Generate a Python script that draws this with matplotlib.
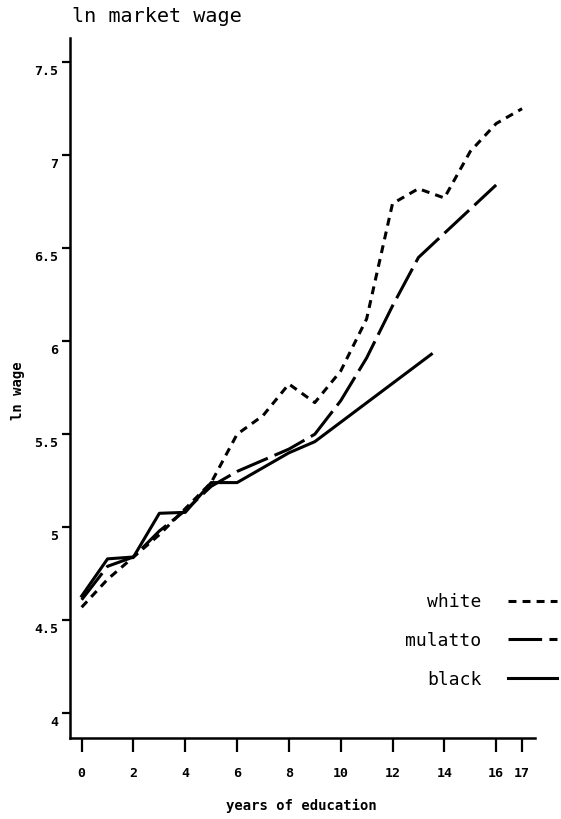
import matplotlib
matplotlib.use("Agg")
import matplotlib.pyplot as plt
from matplotlib.transforms import ScaledTranslation

# ---- data ----
years_white = [0, 1, 2, 3, 4, 5, 6, 7, 8, 9, 10, 11, 12, 13, 14, 15, 16, 17]
wage_white = [4.57, 4.72, 4.84, 4.96, 5.10, 5.24, 5.50, 5.60, 5.77, 5.67,
              5.84, 6.12, 6.74, 6.82, 6.77, 7.02, 7.17, 7.25]

years_mulatto = [0, 1, 2, 3, 4, 5, 6, 7, 8, 9, 10, 11, 12, 13, 16]
wage_mulatto = [4.61, 4.79, 4.84, 4.98, 5.09, 5.22, 5.30, 5.36, 5.42, 5.50,
                5.68, 5.91, 6.19, 6.45, 6.84]

years_black = [0, 1, 2, 3, 4, 5, 6, 7, 8, 9, 13.5]
wage_black = [4.63, 4.83, 4.84, 5.075, 5.08, 5.24, 5.24, 5.32, 5.40, 5.46, 5.93]

x_ticks = [0, 2, 4, 6, 8, 10, 12, 14, 16, 17]
x_tick_labels = ["0", "2", "4", "6", "8", "10", "12", "14", "16", "17"]
y_ticks = [4, 4.5, 5, 5.5, 6, 6.5, 7, 7.5]
y_tick_labels = ["4", "4.5", "5", "5.5", "6", "6.5", "7", "7.5"]

title_text = "ln market wage"
x_label = "years of education"
y_label = "ln wage"
series_labels = ["white", "mulatto", "black"]

# ---- figure ----
W, H = 561, 819
fig = plt.figure(figsize=(W / 100, H / 100), dpi=100)
plt.rcParams['font.family'] = ['DejaVu Sans Mono', 'DejaVu Sans']

ax_left, ax_right = 70, 535
ax_top, ax_bottom = 38, 738
ax = fig.add_axes([ax_left / W, 1 - ax_bottom / H,
                   (ax_right - ax_left) / W, (ax_bottom - ax_top) / H])

lw = 2.2
l_white, = ax.plot(years_white, wage_white, color="black", lw=lw,
                   linestyle=(0, (2.6, 2.0)), label=series_labels[0])
l_mul, = ax.plot(years_mulatto, wage_mulatto, color="black", lw=lw,
                 linestyle=(0, (11.0, 2.4)), label=series_labels[1])
l_black, = ax.plot(years_black, wage_black, color="black", lw=lw,
                   linestyle="-", label=series_labels[2])

ax.set_xlim(-0.45, 17.5)
ax.set_ylim(3.867, 7.63)

for s in ["top", "right"]:
    ax.spines[s].set_visible(False)
for s in ["left", "bottom"]:
    ax.spines[s].set_linewidth(1.8)

ax.set_xticks(x_ticks)
ax.set_xticklabels(x_tick_labels, fontsize=9.5, fontweight="bold")
ax.set_yticks(y_ticks)
ax.set_yticklabels(y_tick_labels, fontsize=9.5, fontweight="bold")
ax.tick_params(axis="x", direction="out", length=10, width=1.6, pad=11)
ax.tick_params(axis="y", direction="out", length=5.5, width=1.6, pad=3)

off = ScaledTranslation(0, -0.08, fig.dpi_scale_trans)
for t in ax.yaxis.get_major_ticks():
    t.label1.set_transform(t.label1.get_transform() + off)

ax.set_xlabel(x_label, fontsize=10, fontweight="bold")
ax.xaxis.set_label_coords((301 - ax_left) / (ax_right - ax_left),
                          (ax_bottom - 799) / (ax_bottom - ax_top))
ax.set_ylabel(y_label, fontsize=10, fontweight="bold")
ax.yaxis.set_label_coords((25 - ax_left) / (ax_right - ax_left),
                          (ax_bottom - 391) / (ax_bottom - ax_top))

fig.text(72 / W, 1 - 17 / H, title_text, fontsize=14.5, ha="left", va="center")

ax.legend(handles=[l_white, l_mul, l_black], loc="upper right",
          bbox_to_anchor=(557 / W, 1 - 593 / H), bbox_transform=fig.transFigure,
          frameon=False, markerfirst=False, fontsize=13, handlelength=2.7,
          handletextpad=1.5, labelspacing=1.15, borderpad=0, borderaxespad=0)

fig.savefig("out.png", dpi=100)
